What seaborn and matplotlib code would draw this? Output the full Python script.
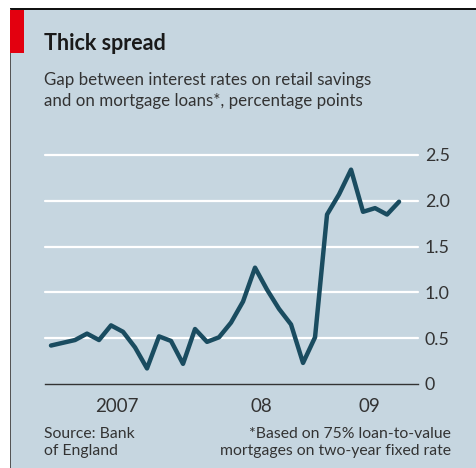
import pandas as pd
import seaborn as sns
import matplotlib.pyplot as plt
from matplotlib.patches import Rectangle
from matplotlib.transforms import blended_transform_factory

# Monthly spread, Jan 2007 - Jun 2009 (percentage points)
months = ['2007-01', '2007-02', '2007-03', '2007-04', '2007-05', '2007-06',
          '2007-07', '2007-08', '2007-09', '2007-10', '2007-11', '2007-12',
          '2008-01', '2008-02', '2008-03', '2008-04', '2008-05', '2008-06',
          '2008-07', '2008-08', '2008-09', '2008-10', '2008-11', '2008-12',
          '2009-01', '2009-02', '2009-03', '2009-04', '2009-05', '2009-06']
spread = [0.42, 0.45, 0.48, 0.55, 0.48, 0.64,
          0.57, 0.40, 0.17, 0.52, 0.47, 0.22,
          0.60, 0.46, 0.51, 0.67, 0.90, 1.27,
          1.03, 0.82, 0.65, 0.23, 0.51, 1.85,
          2.07, 2.34, 1.88, 1.92, 1.85, 1.99]
year_labels = ['2007', '08', '09']
y_ticks = [0, 0.5, 1.0, 1.5, 2.0, 2.5]

df = pd.DataFrame({'month': pd.to_datetime(months), 'spread': spread})
# position in months from start of 2007, centred in each month
df['pos'] = (df['month'].dt.year - 2007) * 12 + df['month'].dt.month - 0.5

bg = '#c6d6e0'
line_col = '#1a4c60'
text_col = '#333333'

sns.set_style('white')
plt.rcParams['font.family'] = ['Lato', 'DejaVu Sans']

W, H = 477, 468
fig = plt.figure(figsize=(W / 100, H / 100), dpi=100, facecolor='white')

# panel background, frame and red tab
fig.patches.append(Rectangle((10 / W, 0), 1, 1 - 9 / H, transform=fig.transFigure,
                             facecolor=bg, edgecolor='none', zorder=-3))
fig.patches.append(Rectangle((10 / W, 1 - 10 / H), 1, 2 / H, transform=fig.transFigure,
                             facecolor='#111111', edgecolor='none', zorder=-2))
fig.patches.append(Rectangle((10 / W, 0), 1 / W, 1 - 9 / H, transform=fig.transFigure,
                             facecolor='#555555', edgecolor='none', zorder=-2))
fig.patches.append(Rectangle((10 / W, 1 - 53 / H), 14 / W, 43 / H, transform=fig.transFigure,
                             facecolor='#e3000f', edgecolor='none', zorder=-1))

ax = fig.add_axes([45 / W, 1 - 384 / H, (418 - 45) / W, (384 - 155) / H])
ax.set_facecolor('none')

sns.lineplot(data=df, x='pos', y='spread', ax=ax, color=line_col, linewidth=3.2,
             solid_joinstyle='round', solid_capstyle='round', clip_on=False, zorder=3)

ax.set_xlim(0, 31.08)
ax.set_ylim(0, 2.5)
ax.set_xlabel('')
ax.set_ylabel('')

# gridlines
for v in y_ticks[1:]:
    ax.axhline(v, color='white', linewidth=1.6, zorder=1, clip_on=False)

for s in ['top', 'left', 'right']:
    ax.spines[s].set_visible(False)
ax.spines['bottom'].set_color('#333333')
ax.spines['bottom'].set_linewidth(1.0)

ax.yaxis.tick_right()
ax.set_yticks(y_ticks)
ax.set_yticklabels(['0', '0.5', '1.0', '1.5', '2.0', '2.5'])
ax.tick_params(axis='y', length=0, pad=5, labelsize=12.8, labelcolor=text_col)

ax.set_xticks([0, 12, 24])
ax.set_xticks(range(1, 32), minor=True)
ax.set_xticklabels([])
ax.tick_params(axis='x', which='major', direction='inout', length=10, width=1, color='#333333')
ax.tick_params(axis='x', which='minor', direction='inout', length=5, width=0.8, color='#333333')

trans = blended_transform_factory(ax.transData, ax.transAxes)
for xpos, lab in zip([6, 18, 27], year_labels):
    ax.text(xpos, -23 / 229, lab, transform=trans, ha='center', va='center',
            fontsize=13.5, color=text_col)

# titles and notes
fig.text(44 / W, 1 - 44 / H, 'Thick spread', fontsize=15.5, fontweight='bold',
         color='#1a1a1a', va='center', ha='left')
fig.text(44 / W, 1 - 80 / H, 'Gap between interest rates on retail savings',
         fontsize=12.2, color=text_col, va='center', ha='left')
fig.text(44 / W, 1 - 101 / H, 'and on mortgage loans*, percentage points',
         fontsize=12.2, color=text_col, va='center', ha='left')

fig.text(44 / W, 1 - 434 / H, 'Source: Bank', fontsize=11.3, color=text_col, va='center')
fig.text(44 / W, 1 - 451 / H, 'of England', fontsize=11.3, color=text_col, va='center')
fig.text(451 / W, 1 - 434 / H, '*Based on 75% loan-to-value', fontsize=11.3,
         color=text_col, va='center', ha='right')
fig.text(451 / W, 1 - 451 / H, 'mortgages on two-year fixed rate', fontsize=11.3,
         color=text_col, va='center', ha='right')

fig.savefig('out.png', dpi=100, facecolor='white')
